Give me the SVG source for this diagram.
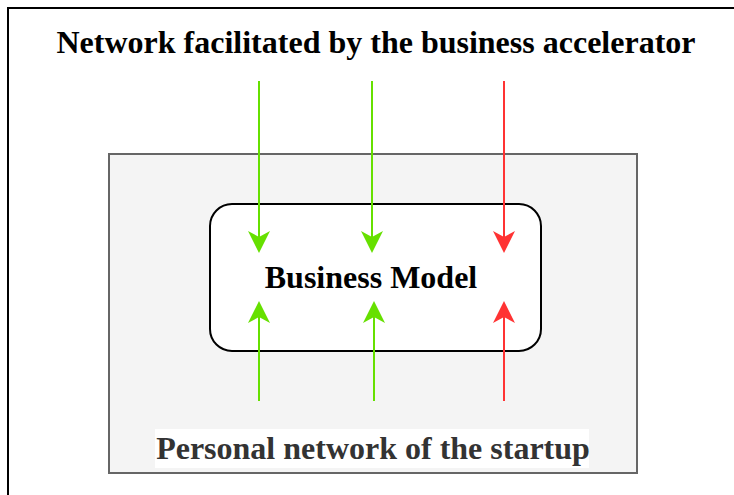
<svg xmlns="http://www.w3.org/2000/svg" width="734" height="495" viewBox="0 0 734 495">
  <style>
    .frame { fill: none; stroke: #000; stroke-width: 2; }
    .box { fill: #f4f4f4; stroke: #666; stroke-width: 2; }
    .model { fill: #fff; stroke: #000; stroke-width: 2; }
    .title { font-family: "Liberation Serif", serif; font-weight: bold; font-size: 32px; fill: #000; text-anchor: middle; }
    .label { font-family: "Liberation Serif", serif; font-weight: bold; font-size: 32px; fill: #333; text-anchor: middle; }
    .green { stroke: #66e000; stroke-width: 2; fill: none; }
    .red { stroke: #ff3333; stroke-width: 2; fill: none; }
  </style>
  <defs>
    <marker id="arrowGreen" viewBox="0 0 22 22" refX="20" refY="11" markerWidth="22" markerHeight="22" markerUnits="userSpaceOnUse" orient="auto">
      <path d="M0,0 L22,11 L0,22 L6,11 Z" fill="#66e000"/>
    </marker>
    <marker id="arrowRed" viewBox="0 0 22 22" refX="20" refY="11" markerWidth="22" markerHeight="22" markerUnits="userSpaceOnUse" orient="auto">
      <path d="M0,0 L22,11 L0,22 L6,11 Z" fill="#ff3333"/>
    </marker>
  </defs>

  <!-- outer frame (top and left edges) -->
  <path class="frame" d="M8,495 L8,8 L734,8"/>

  <text class="title" x="376" y="53">Network facilitated by the business accelerator</text>

  <g id="personal-network">
    <rect class="box" x="109" y="154" width="528" height="319"/>
    <rect x="155" y="429" width="434" height="39" fill="#fff"/>
    <text class="label" x="373" y="459">Personal network of the startup</text>
  </g>

  <g id="business-model">
    <rect class="model" x="210" y="204" width="331" height="147" rx="22" ry="22"/>
    <text class="title" x="371" y="288">Business Model</text>
  </g>

  <g id="connectors">
    <line class="green" x1="259" y1="81" x2="259" y2="251" marker-end="url(#arrowGreen)"/>
    <line class="green" x1="372" y1="81" x2="372" y2="251" marker-end="url(#arrowGreen)"/>
    <line class="red" x1="504" y1="81" x2="504" y2="251" marker-end="url(#arrowRed)"/>
    <line class="green" x1="259" y1="401" x2="259" y2="303" marker-end="url(#arrowGreen)"/>
    <line class="green" x1="374" y1="401" x2="374" y2="303" marker-end="url(#arrowGreen)"/>
    <line class="red" x1="504" y1="401" x2="504" y2="303" marker-end="url(#arrowRed)"/>
  </g>
</svg>
